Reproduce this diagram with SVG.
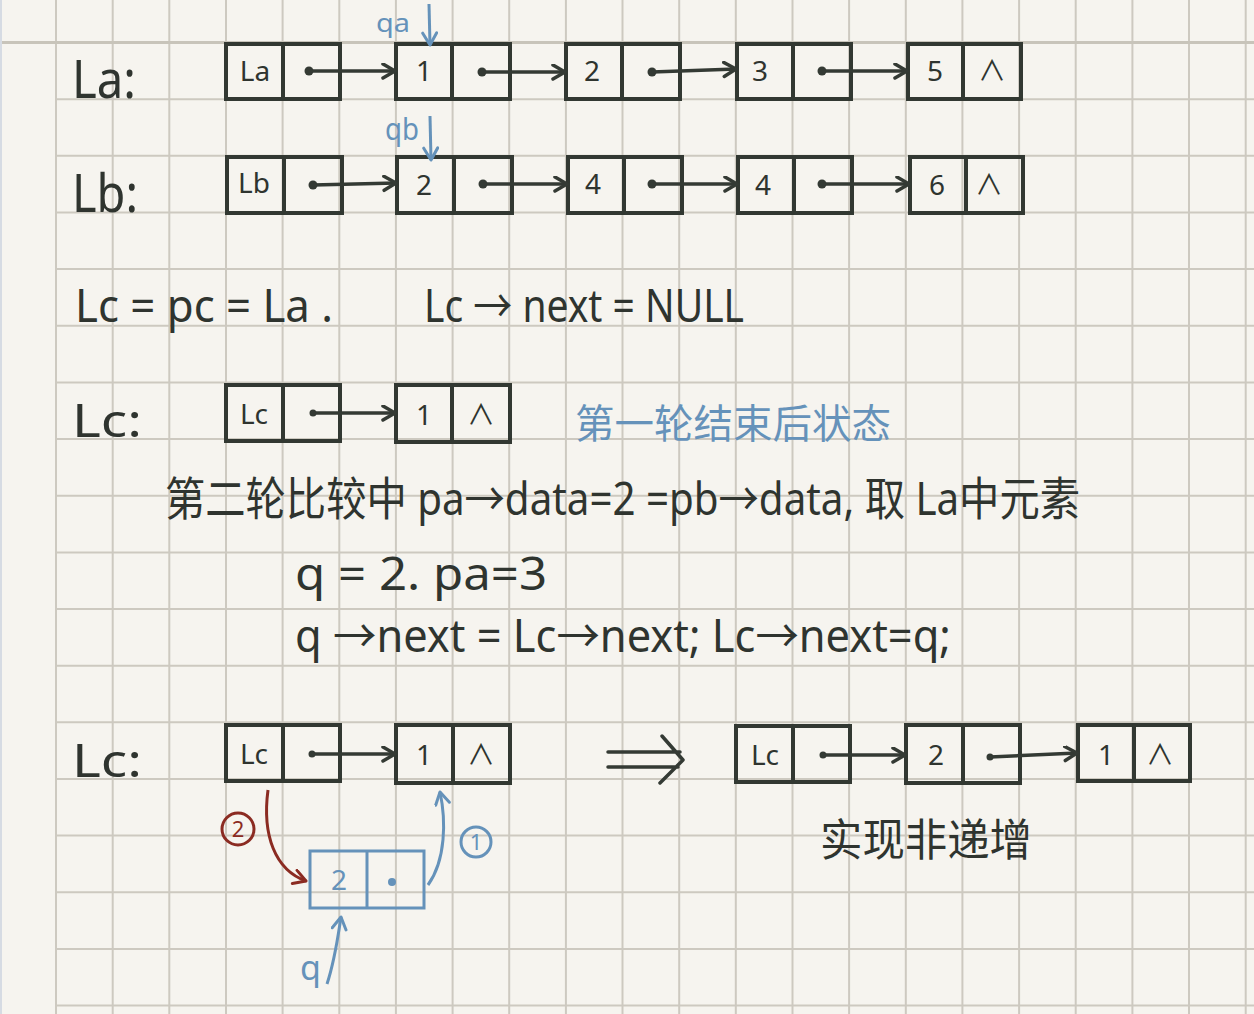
<svg xmlns="http://www.w3.org/2000/svg" width="1254" height="1014" viewBox="0 0 1254 1014">
<style>
.bg{fill:#f6f4ef}
.grid{stroke:#cdc9c0;stroke-width:2;fill:none}
.box{fill:none;stroke:#323832;stroke-width:4}
.bbox{fill:none;stroke:#6592ba;stroke-width:3}
.t{font-family:"Noto Sans","Noto Sans CJK SC",sans-serif;fill:#2f342f}
.tb{font-family:"Noto Sans","Noto Sans CJK SC",sans-serif;fill:#6592ba}
.tr{font-family:"Noto Sans","Noto Sans CJK SC",sans-serif;fill:#8b2b22}
.s28{font-size:28px}
.s46{font-size:46px}
.conn{stroke:#343a34;stroke-width:3.5;fill:none}
.bconn{stroke:#6592ba;stroke-width:3;fill:none}
.rconn{stroke:#8b2b22;stroke-width:3;fill:none}
.dot{fill:#343a34}
</style>
<defs>
<marker id="ah" markerUnits="userSpaceOnUse" markerWidth="20" markerHeight="20" refX="14" refY="8" orient="auto"><path d="M2,1 L14,8 L2,15" fill="none" stroke="#343a34" stroke-width="3.5" stroke-linecap="round" stroke-linejoin="round"/></marker>
<marker id="ahb" markerUnits="userSpaceOnUse" markerWidth="20" markerHeight="20" refX="14" refY="8" orient="auto"><path d="M2,1 L14,8 L2,15" fill="none" stroke="#6592ba" stroke-width="3" stroke-linecap="round" stroke-linejoin="round"/></marker>
<marker id="ahr" markerUnits="userSpaceOnUse" markerWidth="20" markerHeight="20" refX="14" refY="8" orient="auto"><path d="M2,1 L14,8 L2,15" fill="none" stroke="#8b2b22" stroke-width="3" stroke-linecap="round" stroke-linejoin="round"/></marker>
</defs>
<rect class="bg" x="0" y="0" width="1254" height="1014"/>
<g id="grid">
<path class="grid" d="M56,0V1014M112.7,0V1014M169.3,0V1014M226,0V1014M282.6,0V1014M339.3,0V1014M395.9,0V1014M452.6,0V1014M509.2,0V1014M565.9,0V1014M622.5,0V1014M679.2,0V1014M735.8,0V1014M792.5,0V1014M849.1,0V1014M905.8,0V1014M962.4,0V1014M1019.1,0V1014M1075.7,0V1014M1132.4,0V1014M1189,0V1014M1245.7,0V1014"/>
<path class="grid" d="M56,99.2H1254M56,155.8H1254M56,212.5H1254M56,269.1H1254M56,325.8H1254M56,382.4H1254M56,439.1H1254M56,495.7H1254M56,552.4H1254M56,609H1254M56,665.7H1254M56,722.3H1254M56,779H1254M56,835.6H1254M56,892.3H1254M56,948.9H1254M56,1005.6H1254"/>
<path d="M0,42.5H1254" stroke="#c8c4ba" stroke-width="3"/>
<path d="M1,0V1014" stroke="#d6dbe3" stroke-width="2"/>
</g>

<g id="labels">
<text class="t" x="72" y="98" font-size="52" textLength="64" lengthAdjust="spacingAndGlyphs">La:</text>
<text class="t" x="72" y="212" font-size="52" textLength="66" lengthAdjust="spacingAndGlyphs">Lb:</text>
<text class="t s46" x="75" y="322" textLength="258" lengthAdjust="spacingAndGlyphs">Lc = pc = La .</text>
<text class="t s46" x="424" y="322" textLength="320" lengthAdjust="spacingAndGlyphs">Lc → next = NULL</text>
<text class="t" x="72" y="437" font-size="46" textLength="70" lengthAdjust="spacingAndGlyphs">Lc:</text>
<text class="tb" x="575" y="438" font-size="40" textLength="316" lengthAdjust="spacingAndGlyphs">第一轮结束后状态</text>
<text class="t" x="165" y="515" font-size="46" textLength="915" lengthAdjust="spacingAndGlyphs">第二轮比较中 pa→data=2 =pb→data, 取 La中元素</text>
<text class="t s46" x="295" y="590" textLength="252" lengthAdjust="spacingAndGlyphs">q = 2.  pa=3</text>
<text class="t s46" x="295" y="652" textLength="656" lengthAdjust="spacingAndGlyphs">q →next = Lc→next;  Lc→next=q;</text>
<text class="t" x="72" y="777" font-size="46" textLength="70" lengthAdjust="spacingAndGlyphs">Lc:</text>
<text class="t" x="820" y="856" font-size="44" textLength="212" lengthAdjust="spacingAndGlyphs">实现非递增</text>
<text class="tb" x="376" y="32" font-size="26" textLength="34" lengthAdjust="spacingAndGlyphs">qa</text>
<text class="tb" x="385" y="140" font-size="30" textLength="34" lengthAdjust="spacingAndGlyphs">qb</text>
<text class="tb" x="300" y="980" font-size="34">q</text>
<circle cx="238" cy="829" r="16" fill="none" stroke="#8b2b22" stroke-width="3"/>
<text class="tr" x="238" y="837" font-size="22" text-anchor="middle">2</text>
<circle cx="476" cy="842" r="15" fill="none" stroke="#6592ba" stroke-width="3"/>
<text class="tb" x="476" y="850" font-size="22" text-anchor="middle">1</text>
</g>

<g id="a0"><rect class="box" x="226" y="44" width="114" height="55"/><line class="box" x1="283" y1="44" x2="283" y2="99"/><text class="t s28" x="255" y="81" text-anchor="middle">La</text></g>
<g id="a1"><rect class="box" x="396" y="44" width="114" height="55"/><line class="box" x1="452" y1="44" x2="452" y2="99"/><text class="t s28" x="424" y="81" text-anchor="middle">1</text></g>
<g id="a2"><rect class="box" x="566" y="44" width="114" height="55"/><line class="box" x1="622" y1="44" x2="622" y2="99"/><text class="t s28" x="592" y="81" text-anchor="middle">2</text></g>
<g id="a3"><rect class="box" x="737" y="44" width="114" height="55"/><line class="box" x1="793" y1="44" x2="793" y2="99"/><text class="t s28" x="760" y="81" text-anchor="middle">3</text></g>
<g id="a4"><rect class="box" x="908" y="44" width="113" height="55"/><line class="box" x1="963" y1="44" x2="963" y2="99"/><text class="t s28" x="935" y="81" text-anchor="middle">5</text><text class="t s28" x="992" y="81" text-anchor="middle">∧</text></g>

<g id="b0"><rect class="box" x="227" y="157" width="115" height="56"/><line class="box" x1="284" y1="157" x2="284" y2="213"/><text class="t s28" x="254" y="193" text-anchor="middle">Lb</text></g>
<g id="b1"><rect class="box" x="397" y="157" width="115" height="56"/><line class="box" x1="454" y1="157" x2="454" y2="213"/><text class="t s28" x="424" y="195" text-anchor="middle">2</text></g>
<g id="b2"><rect class="box" x="568" y="157" width="114" height="56"/><line class="box" x1="624" y1="157" x2="624" y2="213"/><text class="t s28" x="593" y="194" text-anchor="middle">4</text></g>
<g id="b3"><rect class="box" x="738" y="157" width="114" height="56"/><line class="box" x1="794" y1="157" x2="794" y2="213"/><text class="t s28" x="763" y="195" text-anchor="middle">4</text></g>
<g id="b4"><rect class="box" x="910" y="157" width="113" height="56"/><line class="box" x1="966" y1="157" x2="966" y2="213"/><text class="t s28" x="937" y="195" text-anchor="middle">6</text><text class="t s28" x="989" y="195" text-anchor="middle">∧</text></g>

<g id="c0"><rect class="box" x="226" y="385" width="114" height="56"/><line class="box" x1="283" y1="385" x2="283" y2="441"/><text class="t s28" x="254" y="424" text-anchor="middle">Lc</text></g>
<g id="c1"><rect class="box" x="396" y="385" width="114" height="57"/><line class="box" x1="452" y1="385" x2="452" y2="442"/><text class="t s28" x="424" y="425" text-anchor="middle">1</text><text class="t s28" x="481" y="425" text-anchor="middle">∧</text></g>

<g id="d0"><rect class="box" x="226" y="725" width="114" height="56"/><line class="box" x1="283" y1="725" x2="283" y2="781"/><text class="t s28" x="254" y="764" text-anchor="middle">Lc</text></g>
<g id="d1"><rect class="box" x="396" y="725" width="114" height="58"/><line class="box" x1="453" y1="725" x2="453" y2="783"/><text class="t s28" x="424" y="765" text-anchor="middle">1</text><text class="t s28" x="481" y="765" text-anchor="middle">∧</text></g>
<g id="q"><rect class="bbox" x="310" y="851" width="114" height="57"/><line class="bbox" x1="367" y1="851" x2="367" y2="908"/><text class="tb s28" x="339" y="890" text-anchor="middle">2</text><circle cx="392" cy="882" r="4" fill="#6592ba"/></g>

<g id="e0"><rect class="box" x="736" y="726" width="114" height="56"/><line class="box" x1="793" y1="726" x2="793" y2="782"/><text class="t s28" x="765" y="765" text-anchor="middle">Lc</text></g>
<g id="e1"><rect class="box" x="906" y="725" width="114" height="58"/><line class="box" x1="963" y1="725" x2="963" y2="783"/><text class="t s28" x="936" y="765" text-anchor="middle">2</text></g>
<g id="e2"><rect class="box" x="1078" y="725" width="112" height="56"/><line class="box" x1="1134" y1="725" x2="1134" y2="781"/><text class="t s28" x="1106" y="765" text-anchor="middle">1</text><text class="t s28" x="1160" y="765" text-anchor="middle">∧</text></g>

<g id="connectors">
<circle class="dot" cx="309" cy="71" r="4.5"/><path class="conn" d="M309,71H395" marker-end="url(#ah)"/>
<circle class="dot" cx="482" cy="72" r="4.5"/><path class="conn" d="M482,72H565" marker-end="url(#ah)"/>
<circle class="dot" cx="652" cy="72" r="4.5"/><path class="conn" d="M652,72L736,69" marker-end="url(#ah)"/>
<circle class="dot" cx="822" cy="71" r="4.5"/><path class="conn" d="M822,71H907" marker-end="url(#ah)"/>
<circle class="dot" cx="313" cy="185" r="4.5"/><path class="conn" d="M313,185L396,183" marker-end="url(#ah)"/>
<circle class="dot" cx="483" cy="184" r="4.5"/><path class="conn" d="M483,184H567" marker-end="url(#ah)"/>
<circle class="dot" cx="652" cy="184" r="4.5"/><path class="conn" d="M652,184H737" marker-end="url(#ah)"/>
<circle class="dot" cx="822" cy="184" r="4.5"/><path class="conn" d="M822,184H909" marker-end="url(#ah)"/>
<circle class="dot" cx="313" cy="413" r="3.5"/><path class="conn" d="M313,413H395" marker-end="url(#ah)"/>
<circle class="dot" cx="312" cy="754" r="3.5"/><path class="conn" d="M312,754H395" marker-end="url(#ah)"/>
<circle class="dot" cx="823" cy="755" r="3.5"/><path class="conn" d="M823,755H905" marker-end="url(#ah)"/>
<circle class="dot" cx="990" cy="757" r="3.5"/><path class="conn" d="M990,757L1077,753" marker-end="url(#ah)"/>
<path class="bconn" d="M429,4L430,45" marker-end="url(#ahb)"/>
<path class="bconn" d="M430,116L431,160" marker-end="url(#ahb)"/>
<path class="rconn" d="M268,790C262,835 275,870 306,881" marker-end="url(#ahr)"/>
<path class="bconn" d="M428,885C446,860 446,820 440,792" marker-end="url(#ahb)"/>
<path class="bconn" d="M327,984C335,960 338,936 341,917" marker-end="url(#ahb)"/>
<path class="conn" d="M608,752H680M608,767H678M662,736L683,760L660,783" stroke-width="3" stroke-linecap="round" stroke-linejoin="round"/>
</g>
</svg>
